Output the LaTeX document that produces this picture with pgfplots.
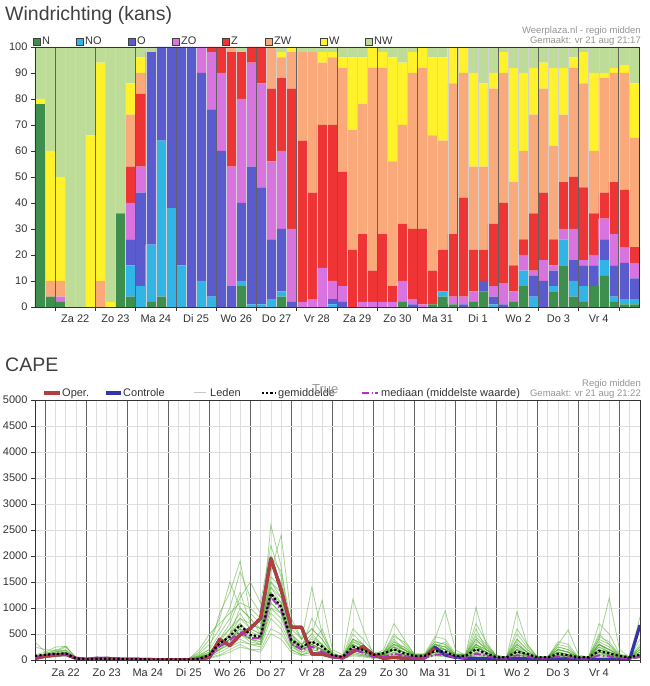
\documentclass[border=0pt]{standalone}
\usepackage{fontspec}
\setmainfont{Liberation Sans}
\usepackage{pgfplots}
\usepackage{pgfplotstable}
\pgfplotsset{compat=1.18}
\definecolor{cN}{RGB}{62,142,78}
\definecolor{cNO}{RGB}{49,180,230}
\definecolor{cO}{RGB}{91,91,208}
\definecolor{cZO}{RGB}{216,115,224}
\definecolor{cZ}{RGB}{238,52,52}
\definecolor{cZW}{RGB}{249,169,122}
\definecolor{cW}{RGB}{255,242,42}
\definecolor{cNW}{RGB}{188,220,152}
\definecolor{cOper}{RGB}{178,62,62}
\definecolor{cCtrl}{RGB}{52,52,168}
\definecolor{cLed}{RGB}{80,172,44}
\definecolor{cMed}{RGB}{176,48,192}
\definecolor{cSep}{RGB}{222,222,222}
\newcommand\legfont{\fontsize{11}{13}\selectfont}
\newcommand\smfont{\fontsize{9.5}{11}\selectfont}
\begin{document}%
\pgfplotstableread{
x N NO O ZO Z ZW W NW
0.5 78 0 0 0 0 0 2 20
1.5 4 0 0 0 0 6 50 40
2.5 2 0 0 2 0 6 40 50
3.5 0 0 0 0 0 0 0 100
4.5 0 0 0 0 0 0 0 100
5.5 0 0 0 0 0 0 66 34
6.5 0 0 0 0 0 10 84 6
7.5 0 0 0 0 0 0 2 98
8.5 36 0 0 0 0 0 0 64
9.5 4 12 10 14 14 20 12 14
10.5 0 8 36 10 28 8 6 4
11.5 2 22 74 0 0 0 0 2
12.5 4 60 36 0 0 0 0 0
13.5 0 38 62 0 0 0 0 0
14.5 0 16 84 0 0 0 0 0
15.5 0 0 100 0 0 0 0 0
16.5 0 10 80 10 0 0 0 0
17.5 0 4 72 22 2 0 0 0
18.5 0 0 60 30 10 0 0 0
19.5 0 0 8 46 44 2 0 0
20.5 8 2 30 40 18 0 0 2
21.5 0 1 53 40 6 0 0 0
22.5 0 1 45 40 14 0 0 0
23.5 0 3 23 30 28 16 0 0
24.5 4 2 24 30 28 8 2 2
25.5 0 0 2 28 54 14 2 0
26.5 0 0 0 2 62 34 0 2
27.5 0 0 0 3 41 54 0 2
28.5 0 0 0 15 55 24 4 2
29.5 0 1 2 7 60 26 2 2
30.5 0 0 2 6 44 40 4 4
31.5 0 0 0 0 22 46 28 4
32.5 0 0 0 2 26 50 18 4
33.5 0 0 0 2 12 78 8 0
34.5 0 0 0 2 26 64 6 2
35.5 0 0 0 2 6 48 40 4
36.5 2 0 0 8 22 38 24 6
37.5 0 0 1 2 27 60 8 2
38.5 0 0 0 1 29 62 8 0
39.5 1 0 0 0 13 52 30 4
40.5 4 2 0 0 16 42 32 4
41.5 1 0 0 3 24 58 14 0
42.5 0 0 1 3 38 48 10 0
43.5 2 0 0 4 16 32 36 10
44.5 6 0 4 0 12 32 32 14
45.5 0 1 3 4 24 52 6 10
46.5 0 0 1 8 31 50 8 2
47.5 2 0 0 4 10 32 44 8
48.5 8 6 0 6 6 34 30 10
49.5 0 4 8 2 22 38 18 8
50.5 0 0 10 8 26 40 10 6
51.5 6 2 6 2 10 36 30 8
52.5 16 10 0 4 18 26 18 8
53.5 4 6 8 12 20 42 4 4
54.5 2 6 8 2 28 40 12 2
55.5 8 0 8 4 16 24 30 10
56.5 12 6 8 8 10 44 2 10
57.5 2 2 12 12 20 42 2 8
58.5 1 2 14 6 22 45 3 7
59.5 1 2 8 6 6 42 21 14
}\wind%
\pgfplotstableread{
name 0 1 2 3 4 5 6 7 8 9 10 11 12 13 14 15 16 17 18 19 20 21 22 23 24 25 26 27 28 29 30 31 32 33 34 35 36 37 38 39 40 41 42 43 44 45 46 47 48 49 50 51 52 53 54 55 56 57 58 59
oper 32 74 96 109 32 13 32 30 19 13 13 10 5 5 3 3 13 51 397 276 481 609 801 1955 1350 628 628 115 115 64 40 160 256 100 32 51 32 32 40 224 nan nan nan nan nan nan nan nan nan nan nan nan nan nan nan nan nan nan nan nan
ctrl 32 74 96 109 32 13 32 30 19 13 13 10 5 5 3 3 13 51 397 276 481 609 801 1955 1350 628 628 115 115 64 40 160 256 100 32 51 32 32 40 244 96 51 32 32 25 25 20 25 25 20 20 20 25 20 20 15 15 15 20 673
mean 80 100 120 125 30 15 25 25 20 15 15 12 10 8 8 10 20 96 320 449 673 481 449 1282 1025 385 256 353 256 96 60 256 192 100 128 205 128 77 80 173 160 77 77 205 128 51 51 160 115 51 51 115 96 51 51 173 128 77 51 100
med 60 90 110 115 25 10 15 15 10 10 10 8 5 5 5 5 15 70 260 380 545 420 420 1218 962 320 200 256 160 60 40 200 140 60 60 120 80 40 40 100 110 40 40 120 80 30 30 90 60 30 30 60 50 25 25 90 70 35 25 60
m1 50 90 120 150 20 0 10 20 10 0 0 0 0 0 0 10 40 80 300 500 800 600 500 2600 1800 400 200 300 200 50 20 300 200 50 100 250 150 50 50 200 150 50 50 300 150 30 30 200 100 30 30 150 100 30 30 300 150 50 30 100
m2 350 150 100 120 30 10 20 30 20 10 10 10 0 0 0 20 100 200 900 1300 1900 900 700 1200 1000 300 100 200 150 50 30 150 100 50 50 150 100 50 50 100 100 50 50 150 100 50 30 100 80 30 30 100 80 30 30 150 100 50 30 50
m3 20 60 100 120 30 10 30 40 20 20 20 20 10 10 10 30 50 100 200 400 600 500 400 1500 1300 600 400 1400 500 100 50 200 150 80 150 300 200 80 100 250 200 80 80 250 150 50 50 150 100 50 50 100 80 50 50 200 150 80 50 150
m4 60 100 150 200 40 20 30 30 20 20 10 10 10 10 10 10 30 50 200 300 500 400 300 1000 900 300 200 300 600 100 50 1170 600 100 100 200 100 50 50 150 100 50 50 200 100 50 50 150 100 50 50 100 100 50 50 150 100 50 50 100
m5 40 80 100 130 30 10 20 20 10 10 10 10 10 10 10 20 60 100 300 500 700 500 400 1400 1200 500 300 500 1150 200 100 300 200 100 150 400 200 100 100 300 250 100 80 300 200 80 50 250 150 50 50 150 100 50 50 250 150 80 50 150
m6 30 70 110 130 20 10 20 30 20 10 10 10 10 10 10 20 50 100 250 400 600 400 350 1100 900 300 200 250 200 80 50 200 150 80 100 200 150 80 100 400 950 200 80 250 150 50 50 200 100 50 50 100 80 50 50 150 100 50 50 100
m7 50 90 120 140 30 10 20 30 20 10 10 10 10 10 10 20 50 100 300 400 500 400 400 1200 1000 350 250 300 200 80 50 250 150 80 100 250 150 80 80 200 200 100 100 1010 300 80 50 200 100 50 50 150 100 50 50 200 150 80 50 100
m8 20 60 90 110 20 10 20 20 10 10 10 10 10 10 10 10 30 80 200 350 500 350 300 1000 800 300 200 300 200 80 50 200 150 80 80 200 100 50 50 150 150 80 80 250 150 50 50 930 300 50 50 150 100 50 50 200 100 50 50 80
m9 40 80 110 130 30 10 20 30 20 10 10 10 10 10 10 20 50 100 300 450 600 450 400 1300 1000 350 250 350 250 80 50 250 180 80 100 250 150 80 80 200 150 80 80 250 150 50 50 200 120 50 50 200 150 50 50 400 1190 200 50 200
m10 30 70 100 120 30 10 20 20 20 10 10 10 10 10 10 20 40 80 250 400 550 400 350 1100 900 300 200 300 200 80 50 250 150 80 100 200 150 80 80 200 150 80 80 250 150 50 50 200 100 50 50 300 580 100 50 300 200 80 50 830
m11 20 50 80 100 20 10 10 20 10 10 10 10 0 0 0 10 20 50 100 200 300 200 200 600 500 200 100 150 100 50 30 100 80 50 50 100 80 50 50 100 80 50 50 100 80 30 30 100 80 30 30 80 60 30 30 100 80 30 30 50
m12 50 100 150 250 40 20 30 30 20 10 10 10 10 10 10 30 150 400 800 1500 1000 800 600 1800 1500 500 300 400 300 100 50 300 200 100 150 350 200 100 100 250 200 100 100 300 200 80 50 300 150 50 50 200 150 50 50 300 200 80 50 150
m13 40 80 120 150 30 10 20 30 20 10 10 10 10 10 10 20 60 120 400 700 1200 1500 1100 2200 1600 500 200 300 200 80 50 300 200 80 100 250 200 80 100 300 200 80 80 300 150 50 50 250 100 50 50 150 100 50 50 250 150 80 50 100
m14 30 60 100 120 20 10 20 20 10 10 10 10 10 10 10 10 40 80 200 300 400 300 300 900 700 250 150 200 150 60 40 150 100 60 80 150 100 60 60 150 120 60 60 150 100 40 40 150 80 40 40 100 80 40 40 150 100 60 40 80
m15 50 90 130 150 30 10 20 30 20 10 10 10 10 10 10 20 60 100 300 500 700 500 500 1700 2400 800 400 600 400 100 60 400 300 100 150 500 300 100 100 300 200 100 100 400 200 80 60 300 150 60 60 200 150 60 60 300 200 100 60 150
m16 60 120 180 270 40 10 20 30 20 10 10 10 10 10 10 20 80 200 500 800 1300 700 600 1500 1200 400 300 500 300 100 50 500 300 100 200 700 400 100 100 350 300 100 100 500 300 80 60 400 200 60 60 250 200 60 60 500 300 100 60 200
m17 250 200 180 150 40 20 40 60 30 20 20 20 10 10 10 20 200 500 700 900 1100 1000 800 1300 1100 400 250 800 500 150 60 600 400 150 120 300 250 100 100 300 250 100 100 350 250 80 60 500 250 60 60 250 200 60 60 450 350 100 60 250
m18 80 120 200 180 40 20 30 30 20 10 10 10 10 10 10 20 80 150 350 600 900 600 500 1600 1400 450 250 350 250 100 50 350 250 100 100 300 200 80 80 250 350 100 80 600 200 60 50 300 150 50 50 200 150 50 50 350 250 80 50 300
m19 10 40 60 80 10 0 10 20 10 0 0 0 0 0 0 0 10 30 80 150 250 200 150 500 400 150 80 100 80 30 20 80 60 30 40 80 60 30 30 80 60 30 30 80 60 20 20 80 60 20 20 60 40 20 20 80 60 20 20 40
m20 100 150 250 260 50 30 40 50 30 20 20 20 10 10 10 30 120 300 600 1000 1700 1200 900 2000 1700 700 400 600 400 120 60 400 300 100 150 450 350 120 120 450 400 120 120 700 350 80 60 600 300 60 60 350 300 60 60 700 500 120 60 400
m21 40 70 90 100 20 10 20 20 10 10 10 10 10 10 10 20 70 150 400 600 800 700 600 1400 1100 350 200 450 300 90 50 350 250 90 120 300 200 80 80 300 250 80 80 400 200 60 50 350 150 50 50 200 150 50 50 300 200 80 50 200
m22 30 60 80 90 20 10 20 20 10 10 10 10 10 10 10 10 40 100 250 500 1000 800 500 1300 1000 300 150 250 200 60 40 200 120 60 80 200 150 60 60 200 150 60 60 200 120 40 40 200 100 40 40 150 100 40 40 200 120 60 40 100
m23 60 110 160 180 40 20 30 40 20 10 10 10 10 10 10 20 60 120 300 450 650 550 450 1900 1300 400 250 350 300 100 50 400 250 80 100 350 250 100 100 350 300 100 100 450 250 60 50 400 200 50 50 300 250 50 50 400 300 80 50 250
m24 20 50 70 90 20 10 10 20 10 10 10 10 10 10 10 10 30 60 150 250 350 300 250 800 600 200 100 150 100 50 30 120 80 40 60 120 80 40 40 120 100 40 40 120 80 30 30 120 60 30 30 80 60 30 30 120 80 40 30 60
}\caperaw%
\pgfplotstabletranspose[colnames from=name,input colnames to=j]{\cape}{\caperaw}%
\begin{tikzpicture}[x=1pt,y=1pt]
\path[use as bounding box] (0,0) rectangle (649,686);
% titles
\node[anchor=base west, inner sep=0, font=\fontsize{19.5}{22}\selectfont, text=black!75] at (5,665) {Windrichting (kans)};
\node[anchor=base west, inner sep=0, font=\fontsize{19.5}{22}\selectfont, text=black!75] at (5,314) {CAPE};
% notes
\node[anchor=base east, inner sep=0, font=\smfont, text=black!42] at (641,652) {Weerplaza.nl - regio midden};
\node[anchor=base east, inner sep=0, font=\smfont, text=black!42] at (641,642) {Gemaakt: vr 21 aug 21:17};
\node[anchor=base east, inner sep=0, font=\smfont, text=black!42] at (641,299) {Regio midden};
\node[anchor=base east, inner sep=0, font=\smfont, text=black!42] at (641,289) {Gemaakt: vr 21 aug 21:22};
% top legend
\foreach \xx/\cc/\tt in {33/cN/N,76/cNO/NO,128/cO/O,172/cZO/ZO,222/cZ/Z,265/cZW/ZW,320/cW/W,365/cNW/NW}{
  \filldraw[fill=\cc, draw=black!75, line width=0.6pt] (\xx,641) rectangle ++(7,7);
  \node[anchor=base west, inner sep=0, font=\legfont, text=black!80] at (\xx+9,641) {\tt};
}
% bottom legend
\draw[cOper, line width=4pt] (44,293) -- (60,293);
\node[anchor=base west, inner sep=0, font=\legfont, text=black!80] at (62,289) {Oper.};
\draw[cCtrl, line width=4pt] (106,293) -- (121,293);
\node[anchor=base west, inner sep=0, font=\legfont, text=black!80] at (123,289) {Controle};
\draw[black!22, line width=1pt] (194,293) -- (206,293);
\node[anchor=base west, inner sep=0, font=\legfont, text=black!80] at (210,289) {Leden};
\draw[black, line width=2.2pt, dash pattern=on 2.2pt off 2pt] (262,293) -- (276,293);
\node[anchor=base west, inner sep=0, font=\legfont, text=black!80] at (278,289) {gemiddelde};
\node[anchor=base west, inner sep=0, font=\fontsize{13}{15}\selectfont, text=black!40] at (312,292) {True};
\draw[cMed, line width=2.2pt, dash pattern=on 7pt off 2.5pt on 1.5pt off 2pt] (362,293) -- (378,293);
\node[anchor=base west, inner sep=0, font=\legfont, text=black!80] at (381,289) {mediaan (middelste waarde)};
% top chart
\begin{scope}[shift={(35pt,379pt)}]
\begin{axis}[
  at={(0pt,0pt)}, anchor=south west, scale only axis,
  width=604pt, height=260pt,
  xmin=0, xmax=60, ymin=0, ymax=100,
  ybar stacked, bar width=1,
  axis on top,
  axis line style={black!80, line width=0.7pt},
  tick align=outside, tick pos=left,
  major tick length=4pt, minor tick length=0pt,
  tick style={black!80, line width=0.7pt},
  xtick={2,6,...,58},
  x tick label as interval,
  xticklabels={Za 22,Zo 23,Ma 24,Di 25,Wo 26,Do 27,Vr 28,Za 29,Zo 30,Ma 31,Di 1,Wo 2,Do 3,Vr 4},
  minor xtick={1,2,...,59},
  xmajorgrids, xminorgrids,
  major grid style={black!62, line width=0.8pt},
  minor grid style={black!18, line width=0.4pt},
  ytick={0,10,...,100},
  tick label style={font=\fontsize{11}{13}\selectfont, text=black!80},
  /pgf/number format/assume math mode=true,
]
\addplot[fill=cN, draw=none] table[x=x,y=N]{\wind};
\addplot[fill=cNO, draw=none] table[x=x,y=NO]{\wind};
\addplot[fill=cO, draw=none] table[x=x,y=O]{\wind};
\addplot[fill=cZO, draw=none] table[x=x,y=ZO]{\wind};
\addplot[fill=cZ, draw=none] table[x=x,y=Z]{\wind};
\addplot[fill=cZW, draw=none] table[x=x,y=ZW]{\wind};
\addplot[fill=cW, draw=none] table[x=x,y=W]{\wind};
\addplot[fill=cNW, draw=none] table[x=x,y=NW]{\wind};
\end{axis}
\end{scope}
% bottom chart
\begin{scope}[shift={(35pt,26pt)}]
\begin{axis}[
  at={(0pt,0pt)}, anchor=south west, scale only axis,
  width=605pt, height=260pt,
  xmin=0, xmax=59, ymin=0, ymax=5000,
  axis line style={black!80, line width=0.7pt},
  tick align=outside, tick pos=left,
  major tick length=4pt, minor tick length=3pt,
  tick style={black!80, line width=0.7pt},
  xtick={1,5,...,57},
  x tick label as interval,
  xticklabels={Za 22,Zo 23,Ma 24,Di 25,Wo 26,Do 27,Vr 28,Za 29,Zo 30,Ma 31,Di 1,Wo 2,Do 3,Vr 4},
  minor xtick={0,1,...,59},
  ytick={0,500,...,5000},
  minor ytick={500,1000,...,4500},
  xmajorgrids, xminorgrids, yminorgrids,
  major grid style={black!62, line width=0.8pt},
  minor grid style={cSep, line width=0.6pt},
  tick label style={font=\fontsize{11}{13}\selectfont, text=black!80},
  x tick label style={yshift=-1pt},
  /pgf/number format/assume math mode=true,
  /pgf/number format/1000 sep={},
  leden/.style={color=cLed, opacity=0.5, line width=0.8pt},
]
\foreach \m in {m1,m2,m3,m4,m5,m6,m7,m8,m9,m10,m11,m12,m13,m14,m15,m16,m17,m18,m19,m20,m21,m22,m23,m24}{
  \addplot[leden] table[x=j,y=\m]{\cape};
}
\addplot[cCtrl, line width=3.2pt, line join=round] table[x=j,y=ctrl]{\cape};
\addplot[cOper, line width=3.2pt, line join=round] table[x=j,y=oper]{\cape};
\addplot[cMed, line width=2pt, dash pattern=on 7pt off 2.5pt on 1.5pt off 2.5pt] table[x=j,y=med]{\cape};
\addplot[black, line width=2.2pt, dash pattern=on 2.2pt off 2.2pt] table[x=j,y=mean]{\cape};
\end{axis}
\end{scope}
\end{tikzpicture}%
\end{document}
